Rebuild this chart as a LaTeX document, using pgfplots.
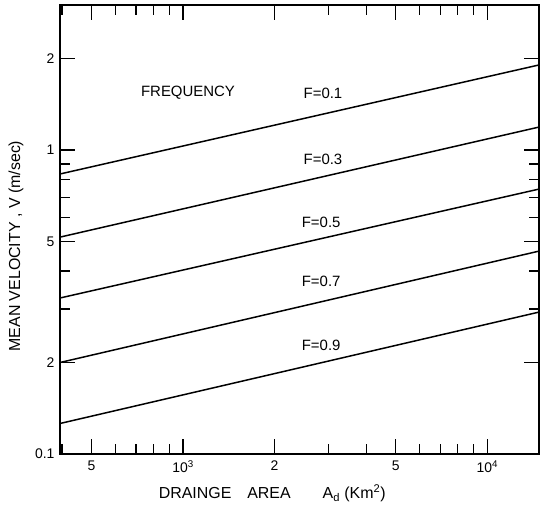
\documentclass[border=0pt]{standalone}
\usepackage{fontspec}
\setmainfont{Liberation Sans}
\usepackage{pgfplots}
\pgfplotsset{compat=1.18}
\begin{document}
\begin{tikzpicture}
\begin{axis}[
  at={(0,0)}, anchor=south west,
  scale only axis, width=479bp, height=449bp,
  xmode=log, ymode=log,
  xmin=394, xmax=14800, ymin=0.1, ymax=3.0,
  axis on top,
  axis line style={line width=2pt},
  major tick style={black, line width=1.2pt},
  minor tick style={black, line width=1.2pt},
  xtick={500,1000,2000,5000,10000},
  xticklabels={5,10\textsuperscript{3},2,5,10\textsuperscript{4}},
  minor xtick={400,600,700,800,900,3000,4000,6000,7000,8000,9000},
  major tick length=15bp, minor tick length=10bp,
  ytick={0.1,0.2,0.5,1,2}, yticklabels={0.1,2,5,1,2},
  minor ytick={0.3,0.4,0.6,0.7,0.8,0.9,3},
  ticklabel style={font=\fontsize{14}{16}\selectfont},
  xticklabel style={yshift=-3bp},
  yticklabel style={xshift=-2bp},
  xlabel={DRAINGE\quad AREA\quad\quad A\textsubscript{d} (Km\textsuperscript{2})},
  ylabel={MEAN VELOCITY , V (m/sec)},
  label style={font=\fontsize{16}{18}\selectfont},
  xlabel style={at={(axis description cs:0.443,-0.087)}, anchor=center},
  ylabel style={at={(axis description cs:-0.092,0.463)}, anchor=center},
]
\addplot[black, line width=1.5pt] coordinates {(394,0.834) (14800,1.905)};
\addplot[black, line width=1.5pt] coordinates {(394,0.517) (14800,1.19)};
\addplot[black, line width=1.5pt] coordinates {(394,0.326) (14800,0.744)};
\addplot[black, line width=1.5pt] coordinates {(394,0.200) (14800,0.465)};
\addplot[black, line width=1.5pt] coordinates {(394,0.126) (14800,0.293)};
\draw[line width=2pt] (rel axis cs:0,0) rectangle (rel axis cs:1,1);
\node[font=\fontsize{15}{17}\selectfont] at (axis cs:1038,1.54) {FREQUENCY};
\node[font=\fontsize{15}{17}\selectfont] at (axis cs:2884,1.54) {F=0.1};
\node[font=\fontsize{15}{17}\selectfont] at (axis cs:2884,0.934) {F=0.3};
\node[font=\fontsize{15}{17}\selectfont] at (axis cs:2845,0.580) {F=0.5};
\node[font=\fontsize{15}{17}\selectfont] at (axis cs:2845,0.371) {F=0.7};
\node[font=\fontsize{15}{17}\selectfont] at (axis cs:2845,0.227) {F=0.9};
\end{axis}
\path (-60bp,-54bp) (487bp,454bp);
\end{tikzpicture}
\end{document}
